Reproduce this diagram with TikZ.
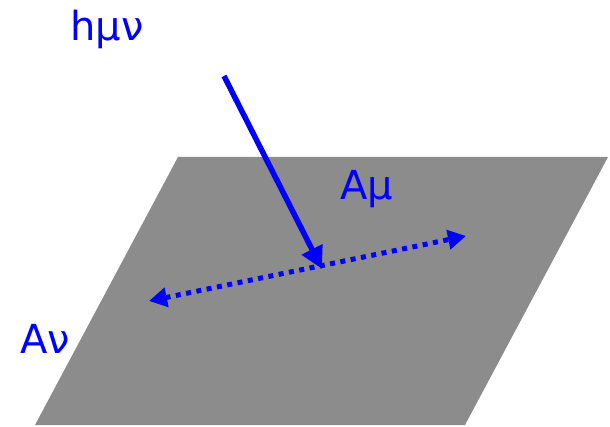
\documentclass[tikz,border=0pt]{standalone}
\usepackage{fontspec}
\setmainfont{DejaVu Sans}
\usetikzlibrary{arrows.meta}
\definecolor{plane}{RGB}{140,140,140}
\tikzset{lbl/.style={text=blue,font=\fontsize{40}{46}\selectfont,inner sep=0pt,anchor=base west},
  vec/.style={draw=blue,line width=5.5pt,-{Triangle[length=22pt,width=22pt]}},
  pol/.style={draw=blue,line width=5pt,dash pattern=on 5pt off 5.5pt,{Triangle[length=18pt,width=19pt]}-{Triangle[length=18pt,width=19pt]}}}
\begin{document}
\begin{tikzpicture}[x=1pt,y=-1pt]
\useasboundingbox (0,0) rectangle (610,427);
% plane
\fill[plane] (178,157) -- (608,157) -- (465,425) -- (35,425) -- cycle;
% labels
\node[lbl] (h) at (70,41) {hμν};
\node[lbl] (amu) at (340,200) {Aμ};
\node[lbl] (anu) at (20,353) {Aν};
% vectors
\coordinate (src) at (224,76);
\coordinate (hit) at (322,269);
\coordinate (pl) at (149,301);
\coordinate (pr) at (466,236);
\draw[vec] (src) -- (hit);
\draw[pol] (pl) -- (pr);
\end{tikzpicture}
\end{document}
